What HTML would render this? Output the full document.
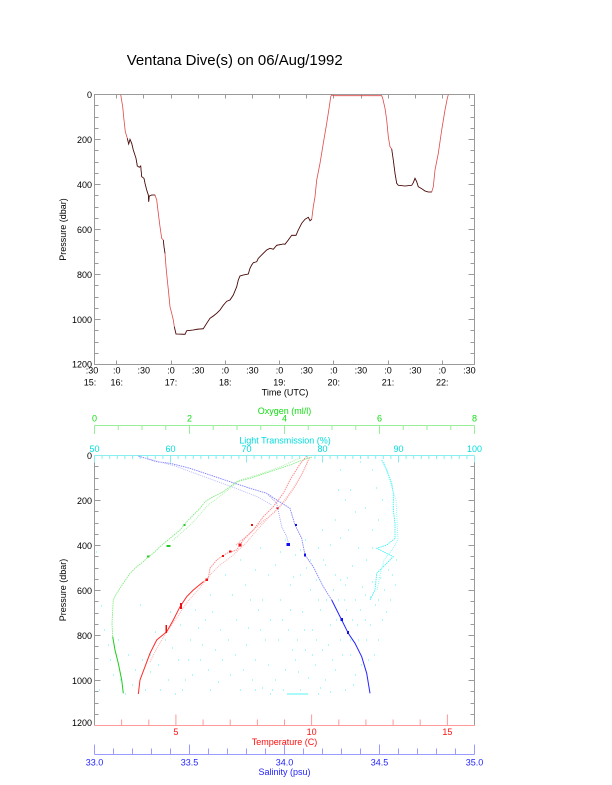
<!DOCTYPE html>
<html><head><meta charset="utf-8"><style>
html,body{margin:0;padding:0;background:#fff}
svg{display:block}
text{font-family:"Liberation Sans",Arial,Helvetica,sans-serif}
</style></head><body>
<svg width="612" height="785" viewBox="0 0 612 785" xmlns="http://www.w3.org/2000/svg">
<rect width="612" height="785" fill="#fff"/>

<!-- Title -->
<text x="126.7" y="65" font-size="15" textLength="216" lengthAdjust="spacingAndGlyphs" fill="#000">Ventana Dive(s) on 06/Aug/1992</text>

<!-- ================= TOP CHART ================= -->
<rect x="94.5" y="94.5" width="380" height="270" fill="none" stroke="#9a9a9a" stroke-width="1"/>
<g stroke="#9a9a9a" stroke-width="1" fill="none">
<path d="M94.5 139.5h6M94.5 184.5h6M94.5 229.5h6M94.5 274.5h6M94.5 319.5h6"/>
<path d="M94.5 105.5h4M94.5 117.5h4M94.5 128.5h4M94.5 150.5h4M94.5 162.5h4M94.5 173.5h4M94.5 195.5h4M94.5 207.5h4M94.5 218.5h4M94.5 240.5h4M94.5 252.5h4M94.5 263.5h4M94.5 285.5h4M94.5 297.5h4M94.5 308.5h4M94.5 330.5h4M94.5 342.5h4M94.5 353.5h4"/>
<path d="M474.5 139.5h-6M474.5 184.5h-6M474.5 229.5h-6M474.5 274.5h-6M474.5 319.5h-6"/>
<path d="M474.5 105.5h-4M474.5 117.5h-4M474.5 128.5h-4M474.5 150.5h-4M474.5 162.5h-4M474.5 173.5h-4M474.5 195.5h-4M474.5 207.5h-4M474.5 218.5h-4M474.5 240.5h-4M474.5 252.5h-4M474.5 263.5h-4M474.5 285.5h-4M474.5 297.5h-4M474.5 308.5h-4M474.5 330.5h-4M474.5 342.5h-4M474.5 353.5h-4"/>
<path d="M116.5 94.5v4M143.5 94.5v4M171.5 94.5v4M198.5 94.5v4M225.5 94.5v4M252.5 94.5v4M279.5 94.5v4M306.5 94.5v4M333.5 94.5v4M361.5 94.5v4M388.5 94.5v4M415.5 94.5v4M442.5 94.5v4M469.5 94.5v4"/>
<path d="M116.5 364.5v-4M171.5 364.5v-4M225.5 364.5v-4M279.5 364.5v-4M333.5 364.5v-4M388.5 364.5v-4M442.5 364.5v-4"/>
</g>
<g font-size="9" fill="#000" text-anchor="end">
<text x="92" y="97.8">0</text>
<text x="92" y="142.8">200</text>
<text x="92" y="187.8">400</text>
<text x="92" y="232.8">600</text>
<text x="92" y="277.8">800</text>
<text x="92" y="322.8">1000</text>
<text x="92" y="367.3">1200</text>
</g>
<text font-size="9" fill="#000" text-anchor="middle" transform="translate(66.2,229.5) rotate(-90)">Pressure (dbar)</text>
<g font-size="9" fill="#000" text-anchor="middle">
<text x="92" y="373.3">:30</text><text x="116.7" y="373.3">:0</text><text x="143.8" y="373.3">:30</text><text x="171" y="373.3">:0</text><text x="198.1" y="373.3">:30</text><text x="225.2" y="373.3">:0</text><text x="252.4" y="373.3">:30</text><text x="279.5" y="373.3">:0</text><text x="306.6" y="373.3">:30</text><text x="333.8" y="373.3">:0</text><text x="360.9" y="373.3">:30</text><text x="388" y="373.3">:0</text><text x="415.2" y="373.3">:30</text><text x="442.3" y="373.3">:0</text><text x="469.4" y="373.3">:30</text>
<text x="90" y="385.3">15:</text><text x="116.7" y="385.3">16:</text><text x="171" y="385.3">17:</text><text x="225.2" y="385.3">18:</text><text x="279.5" y="385.3">19:</text><text x="333.8" y="385.3">20:</text><text x="388" y="385.3">21:</text><text x="442.3" y="385.3">22:</text>
<text x="285" y="395.5">Time (UTC)</text>
</g>

<!-- dive profile -->
<polyline fill="none" stroke="#e04848" stroke-width="0.8" points="120.7,94.7 122.7,106.7 124,120 125.3,131.7 127.3,138.3 128.7,144 130,139.3 131.7,143.3 133.3,150 136,158.3 137.3,166 139.3,167.3 140.7,166 141.7,176.7 144,178.3 145,183.3 146.7,190 148.3,195 148.7,201.7 149.3,196 151.7,195 155,195 156.7,200 158.3,213.3 160,226.7 161.7,238.3 163.3,240 164,246.7 165,253.3 166,266.7 167.3,280 168.7,293.3 170,306.7 171.7,313.3 173.3,320 174.3,326.7 176,334 185,334.3 186.7,330.7 193.3,330 196.7,329.3 203.3,328.7 206.7,323.3 210,318.3 213.3,316 216.7,313.3 220,310 223.3,305.3 226.7,301.3 230,300 233.3,295 236.7,286.7 238.3,280 240,276 243.3,275 248.3,274 250,268.3 251.7,265 253.3,262.7 256.7,261.7 258.3,258.3 263.3,253.3 266.7,250 270,248.3 273.3,249.3 276.7,245.3 283.3,244 285,244.3 288.3,240 291.7,235.3 296,235.3 298.3,230 301.7,223.3 305,219.3 308.3,217.3 310,220.7 311.7,219.3 313.3,206.7 315,196.7 316.7,180 320,163.3 323.3,143.3 326.7,123.3 329.3,106.7 330.7,96.7 331.7,94.7 333.3,95.7 381.7,95.7 382.7,98.3 385,108.3 386.7,120 388.3,136.7 390,146.7 391.7,149 393.3,160 395,173.3 396.7,183.3 398.3,185.3 405,186 411.7,185.3 413.3,182.7 415,178.3 416.7,181.7 418.3,186.7 421.7,188.7 425,191 428.3,192 431.7,192 433.3,186.7 435,170 438.3,153.3 441.7,130 445,110 447.3,98.3 448.3,94.7"/>
<g fill="none" stroke="#3a1010" stroke-width="0.8">
<polyline points="174.3,326.7 176,334 185,334.3 186.7,330.7 193.3,330 196.7,329.3 203.3,328.7 206.7,323.3 210,318.3 213.3,316 216.7,313.3 220,310 223.3,305.3 226.7,301.3 230,300 233.3,295 236.7,286.7 238.3,280 240,276 243.3,275 248.3,274 250,268.3 251.7,265 253.3,262.7 256.7,261.7 258.3,258.3 263.3,253.3 266.7,250 270,248.3 273.3,249.3 276.7,245.3 283.3,244 285,244.3 288.3,240 291.7,235.3 296,235.3 298.3,230 301.7,223.3 305,219.3 308.3,217.3 310,220.7 311.7,219.3"/>
<polyline points="391.7,149 393.3,160 395,173.3 396.7,183.3 398.3,185.3 405,186 411.7,185.3 413.3,182.7 415,178.3 416.7,181.7 418.3,186.7 421.7,188.7 425,191 428.3,192 431.7,192"/>
<polyline points="127.3,138.3 128.7,144 130,139.3 131.7,143.3 133.3,150 136,158.3 137.3,166 139.3,167.3 140.7,166 141.7,176.7 144,178.3 145,183.3 146.7,190 148.3,195 148.7,201.7 149.3,196 151.7,195 155,195"/>
<polyline points="163.3,240 164,246.7 165,253.3"/>
</g>

<!-- ================= BOTTOM CHART ================= -->
<g stroke="#9a9a9a" stroke-width="1" fill="none">
<path d="M94.5 455.5V725.5M474.5 455.5V725.5"/>
<path d="M94.5 500.5h6M94.5 545.5h6M94.5 590.5h6M94.5 635.5h6M94.5 680.5h6"/>
<path d="M94.5 466.5h4M94.5 478.5h4M94.5 489.5h4M94.5 511.5h4M94.5 523.5h4M94.5 534.5h4M94.5 556.5h4M94.5 568.5h4M94.5 579.5h4M94.5 601.5h4M94.5 613.5h4M94.5 624.5h4M94.5 646.5h4M94.5 658.5h4M94.5 669.5h4M94.5 691.5h4M94.5 703.5h4M94.5 714.5h4"/>
<path d="M474.5 500.5h-6M474.5 545.5h-6M474.5 590.5h-6M474.5 635.5h-6M474.5 680.5h-6"/>
<path d="M474.5 466.5h-4M474.5 478.5h-4M474.5 489.5h-4M474.5 511.5h-4M474.5 523.5h-4M474.5 534.5h-4M474.5 556.5h-4M474.5 568.5h-4M474.5 579.5h-4M474.5 601.5h-4M474.5 613.5h-4M474.5 624.5h-4M474.5 646.5h-4M474.5 658.5h-4M474.5 669.5h-4M474.5 691.5h-4M474.5 703.5h-4M474.5 714.5h-4"/>
</g>
<g font-size="9" fill="#000" text-anchor="end">
<text x="92" y="459">0</text>
<text x="92" y="503.8">200</text>
<text x="92" y="548.8">400</text>
<text x="92" y="593.8">600</text>
<text x="92" y="638.8">800</text>
<text x="92" y="683.8">1000</text>
<text x="92" y="726">1200</text>
</g>
<text font-size="9" fill="#000" text-anchor="middle" transform="translate(66.2,590) rotate(-90)">Pressure (dbar)</text>

<!-- Oxygen axis -->
<g stroke="#99ee99" stroke-width="1" fill="none">
<path d="M94.5 425.5H474.5"/>
<path d="M94.5 425.5v8.5M189.5 425.5v8.5M284.5 425.5v8.5M379.5 425.5v8.5M474.5 425.5v8.5"/>
<path d="M118.25 425.5v4.5M142 425.5v4.5M165.75 425.5v4.5M213.25 425.5v4.5M237 425.5v4.5M260.75 425.5v4.5M308.25 425.5v4.5M332 425.5v4.5M355.75 425.5v4.5M403.25 425.5v4.5M427 425.5v4.5M450.75 425.5v4.5"/>
</g>
<g font-size="9" fill="#11dd11" text-anchor="middle">
<text x="94.5" y="421.5">0</text><text x="189.5" y="421.5">2</text><text x="284.5" y="421.5">4</text><text x="379.5" y="421.5">6</text><text x="474.5" y="421.5">8</text>
<text x="284.5" y="414">Oxygen (ml/l)</text>
</g>

<!-- Light transmission axis -->
<g stroke="#88eeee" stroke-width="1" fill="none">
<path d="M94.5 455.5H474.5"/>
<path d="M94.5 455.5v7M170.5 455.5v7M246.5 455.5v7M322.5 455.5v7M398.5 455.5v7M474.5 455.5v7"/>
<path d="M102.1 455.5v3.5M109.7 455.5v3.5M117.3 455.5v3.5M124.9 455.5v3.5M132.5 455.5v3.5M140.1 455.5v3.5M147.7 455.5v3.5M155.3 455.5v3.5M162.9 455.5v3.5M178.1 455.5v3.5M185.7 455.5v3.5M193.3 455.5v3.5M200.9 455.5v3.5M208.5 455.5v3.5M216.1 455.5v3.5M223.7 455.5v3.5M231.3 455.5v3.5M238.9 455.5v3.5M254.1 455.5v3.5M261.7 455.5v3.5M269.3 455.5v3.5M276.9 455.5v3.5M284.5 455.5v3.5M292.1 455.5v3.5M299.7 455.5v3.5M307.3 455.5v3.5M314.9 455.5v3.5M330.1 455.5v3.5M337.7 455.5v3.5M345.3 455.5v3.5M352.9 455.5v3.5M360.5 455.5v3.5M368.1 455.5v3.5M375.7 455.5v3.5M383.3 455.5v3.5M390.9 455.5v3.5M406.1 455.5v3.5M413.7 455.5v3.5M421.3 455.5v3.5M428.9 455.5v3.5M436.5 455.5v3.5M444.1 455.5v3.5M451.7 455.5v3.5M459.3 455.5v3.5M466.9 455.5v3.5"/>
</g>
<g font-size="9" fill="#00dddd" text-anchor="middle">
<text x="94.5" y="452.2">50</text><text x="170.5" y="452.2">60</text><text x="246.5" y="452.2">70</text><text x="322.5" y="452.2">80</text><text x="398.5" y="452.2">90</text><text x="474.5" y="452.2">100</text>
<text x="285" y="443.3">Light Transmission (%)</text>
</g>

<!-- Temperature axis -->
<g stroke="#ff9a9a" stroke-width="1" fill="none">
<path d="M94.5 725.5H474.5"/>
<path d="M175.9 725.5v-11M311.6 725.5v-11M447.4 725.5v-11"/>
<path d="M121.6 725.5v-6M148.8 725.5v-6M203.1 725.5v-6M230.2 725.5v-6M257.4 725.5v-6M284.5 725.5v-6M338.8 725.5v-6M365.9 725.5v-6M393.1 725.5v-6M420.2 725.5v-6"/>
</g>
<g font-size="9" fill="#ff1010" text-anchor="middle">
<text x="175.9" y="735">5</text><text x="311.6" y="735">10</text><text x="447.4" y="735">15</text>
<text x="284.5" y="745">Temperature (C)</text>
</g>

<!-- Salinity axis -->
<g stroke="#9a9aff" stroke-width="1" fill="none">
<path d="M94.5 754.5H474.5"/>
<path d="M94.5 754.5v-10M189.5 754.5v-10M284.5 754.5v-10M379.5 754.5v-10M474.5 754.5v-10"/>
<path d="M113.5 754.5v-6M132.5 754.5v-6M151.5 754.5v-6M170.5 754.5v-6M208.5 754.5v-6M227.5 754.5v-6M246.5 754.5v-6M265.5 754.5v-6M303.5 754.5v-6M322.5 754.5v-6M341.5 754.5v-6M360.5 754.5v-6M398.5 754.5v-6M417.5 754.5v-6M436.5 754.5v-6M455.5 754.5v-6"/>
</g>
<g font-size="9" fill="#2222ff" text-anchor="middle">
<text x="94.5" y="765.5">33.0</text><text x="189.5" y="765.5">33.5</text><text x="284.5" y="765.5">34.0</text><text x="379.5" y="765.5">34.5</text><text x="474.5" y="765.5">35.0</text>
<text x="284.5" y="775">Salinity (psu)</text>
</g>

<!-- cyan scatter (light transmission) -->
<path fill="none" stroke="#55f5f5" stroke-width="1.1" d="M96 552h1M101 606h1M104 630h1M110 660h1M99 690h1M118 640h1M120 680h1M125 694h1M135 670h1M140 605h1M150 655h1M150 672h1M160 690h1M165 640h1M170 612h1M178 660h1M180 625h1M190 640h1M195 610h1M205 620h1M210 595h1M215 650h1M225 575h1M230 675h1M240 560h1M240 690h1M248 628h1M255 660h1M260 548h1M262 600h1M265 640h1M270 620h1M275 680h1M280 552h1M280 600h1M285 670h1M288 630h1M290 585h1M292 650h1M295 555h1M295 660h1M300 575h1M300 690h1M302 612h1M305 650h1M310 560h1M310 590h1M312 630h1M315 665h1M318 600h1M320 610h1M320 688h1M323 560h1M325 565h1M325 680h1M328 645h1M330 545h1M330 625h1M335 575h1M335 670h1M338 600h1M340 538h1M340 580h1M340 640h1M345 585h1M345 690h1M347 578h1M350 655h1M352 620h1M355 600h1M355 675h1M358 640h1M360 610h1M362 587h1M365 595h1M365 620h1M368 660h1M370 597h1M372 582h1M375 605h1M378 640h1M380 578h1M382 620h1M388 570h1M390 600h1M395 585h1M285 540h1M300 550h1M293 577h1M250 600h1M220 630h1M200 660h1M185 680h1M145 690h1M175 694h1M210 690h1M235 655h1M255 690h1M287 694h21M318 694h1M330 692h1M270 694h1M262 688h1M344 600h1M333 590h1M316 580h1M306 568h1M352 566h1M358 548h1M366 560h1M372 548h1M348 530h1M372 530h1M378 520h1M365 508h1M382 500h1M376 488h1M372 470h1M360 462h1M340 470h1M350 490h1
M108 645h1M113 675h1M128 655h1M132 685h1M142 660h1M155 632h1M158 665h1M168 680h1M172 648h1M182 690h1M188 660h1M192 675h1M198 628h1M202 645h1M208 670h1M212 612h1M218 682h1M222 660h1M228 640h1M232 595h1M236 620h1M243 670h1M246 645h1M252 680h1M258 610h1M260 630h1M268 665h1M272 690h1M278 640h1M282 620h1M283 690h1M290 610h1M297 640h1M298 672h1M304 630h1M308 678h1M312 655h1M316 640h1M322 650h1M326 600h1M332 660h1M336 620h1M342 655h1M346 610h1M350 640h1M353 685h1M357 625h1M361 665h1M366 640h1M370 625h1M374 655h1M378 600h1M384 590h1M386 612h1M392 575h1M396 560h1M268 575h1M255 570h1M245 585h1M275 565h1M318 548h1M305 540h1M322 530h1M335 520h1M355 512h1M345 500h1M338 490h1"/>
<polyline fill="none" stroke="#40f0f0" stroke-width="0.9" stroke-dasharray="1.5 0.8" points="381.7,460 386.7,470 391.7,483.3 393.3,493.3 393.3,510 395,523.3 395,538.3 386.7,545 376.7,548.3 393.3,556.7 386.7,563.3 376.7,573.3 375,590 370,600"/>
<polyline fill="none" stroke="#88f8f8" stroke-width="0.9" stroke-dasharray="1 1" points="384,462 389,478 396,500 397,520 398,540 392,550 384,560 380,575 377,590"/>

<!-- oxygen (green) -->
<polyline fill="none" stroke="#80ec80" stroke-width="0.9" stroke-dasharray="1.5 0.8" points="312,457 300,461 290,465 270,471.7 250,478.3 236.7,481.7 230,486.7 223.3,491.7 213.3,496.7 205,501.7 200,508.3 193.3,515 186.7,521.7 180,530 170,538.3 160,546.7 153.3,553.3 148.3,556.7 143.3,561.7 136.7,566.7 130,573.3 123.3,583.3 116.7,593.3 113.3,600 112.7,610 112,623.3 112.7,636.7"/>
<polyline fill="none" stroke="#a8f2a8" stroke-width="0.9" stroke-dasharray="1 1" points="300,458 280,467 260,474 240,480 228,490 215,500 207,506 202,512 195,520 188,527 180,534 172,541"/>
<polyline fill="none" stroke="#1ccc1c" stroke-width="1" points="112.7,636.7 115,650 118.3,663.3 121.7,680 123.3,693.3"/>
<g fill="#22cc22"><rect x="166.5" y="545" width="4" height="2"/><rect x="147" y="555.5" width="2.5" height="2"/><rect x="183.5" y="524" width="2" height="2"/></g>

<!-- temperature (red) -->
<polyline fill="none" stroke="#ff8080" stroke-width="0.9" stroke-dasharray="1.5 0.8" points="203.3,581.7 208.3,578.3 210,568.3 216.7,560 226.7,553.3 236.7,550 243.3,540 253.3,530 263.3,516.7 273.3,506.7 283.3,493.3 290,480 300,464 306.7,456"/>
<polyline fill="none" stroke="#ffa8a8" stroke-width="0.9" stroke-dasharray="1 1" points="150,662 158,646 168,630 178,616 188,601 198,590 210,575 220,565 232,556 246,543 257,530 268,518 280,506 292,490 302,474 309,458"/>
<polyline fill="none" stroke="#ff9a9a" stroke-width="0.9" stroke-dasharray="1 1" points="236,545 250,533 262,522 275,512 286,500 296,485 305,468 310,457"/>
<polyline fill="none" stroke="#ff2a2a" stroke-width="1" points="138.3,694 140,680 145,666.7 150,653.3 156.7,640 166.7,631.7 173.3,620 180,606.7 186.7,596.7 193.3,590 203.3,581.7"/>
<g fill="#ee1111"><rect x="238.5" y="543.5" width="3" height="3"/><rect x="229" y="550.5" width="2.5" height="2"/><rect x="222" y="555" width="2" height="2"/><rect x="251" y="524" width="2" height="2"/><rect x="276.5" y="507" width="2" height="2"/><rect x="205.5" y="578.5" width="2.5" height="2.5"/><rect x="180" y="603" width="2" height="6"/><rect x="165.5" y="625" width="1.5" height="8"/></g>

<!-- salinity (blue) -->
<polyline fill="none" stroke="#8080ff" stroke-width="0.9" stroke-dasharray="1.5 0.8" points="138.3,456 156.7,461.7 170,463.3 190,468.3 210,475 230,481.7 250,488.3 266.7,493.3 276.7,500 290,508.3 295,525 301.7,538.3 305,555 313.3,566.7 323.3,586.7 331.7,600"/>
<polyline fill="none" stroke="#a0a0ff" stroke-width="0.9" stroke-dasharray="1 1" points="266.7,493.3 276.7,503.3 281.7,526.7 286.7,536.7 289,545"/>
<polyline fill="none" stroke="#b4b4ff" stroke-width="0.9" stroke-dasharray="1 1" points="145,458 175,466 205,477 235,488 258,497 272,505"/>
<polyline fill="none" stroke="#2424ff" stroke-width="1" points="331.7,600 341.7,620 348.3,633.3 355,643.3 361.7,656.7 366.7,673.3 370,693.3"/>
<g fill="#1010ee"><rect x="286.5" y="543" width="3.5" height="3"/><rect x="304" y="553.5" width="2" height="3"/><rect x="340.5" y="618" width="2.5" height="3"/><rect x="347" y="631" width="2" height="3"/><rect x="295" y="524" width="2" height="2"/></g>
</svg>
</body></html>
